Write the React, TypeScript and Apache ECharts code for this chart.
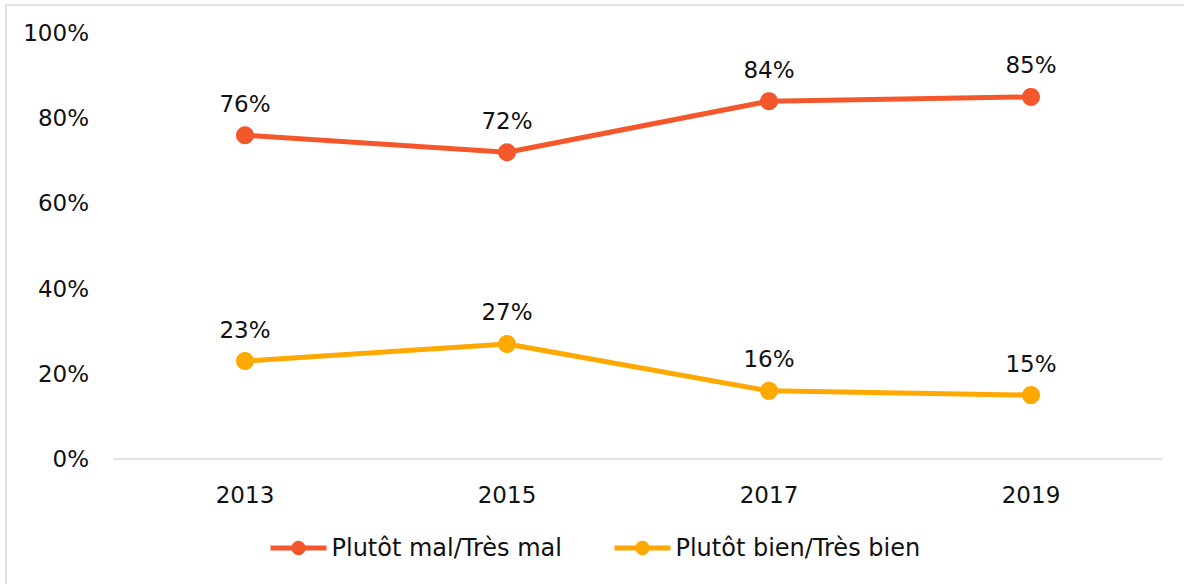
import React, { useEffect, useRef } from "react";
import * as echarts from "echarts";

const categories = ["2013", "2015", "2017", "2019"];
const seriesMal = [76, 72, 84, 85];
const seriesBien = [23, 27, 16, 15];
const seriesNames = ["Plutôt mal/Très mal", "Plutôt bien/Très bien"];
const colors = ["#F4572B", "#FFA800"];

const FONT = "DejaVu Sans";

export default function App() {
  const ref = useRef<HTMLDivElement>(null);
  useEffect(() => {
    const chart = echarts.init(ref.current!, null, { renderer: "svg" });
    const mkSeries = (name: string, data: number[], color: string) => ({
      name,
      type: "line",
      data,
      symbol: "circle",
      symbolSize: 18,
      lineStyle: { color, width: 5 },
      itemStyle: { color },
      label: {
        show: true,
        position: "top",
        distance: 11,
        formatter: (p: any) => p.value + "%",
        color: "#111",
        fontFamily: FONT,
        fontSize: 23,
      },
    });
    chart.setOption({
      animation: false,
      backgroundColor: "#fff",
      graphic: [
        {
          type: "rect",
          shape: { x: 6, y: 5, width: 1300, height: 700 },
          style: { fill: "none", stroke: "#D9D9D9", lineWidth: 1.5 },
          silent: true,
        },
      ],
      grid: { left: 114, right: 22, top: 33, bottom: 125 },
      legend: {
        bottom: 24,
        left: 268,
        padding: 0,
        itemWidth: 56,
        itemHeight: 18,
        itemGap: 50,
        lineStyle: { width: 5 },
        textStyle: { fontFamily: FONT, fontSize: 24, color: "#111" },
        data: seriesNames,
      },
      xAxis: {
        type: "category",
        data: categories,
        boundaryGap: true,
        axisLine: { lineStyle: { color: "#D9D9D9", width: 1.5 } },
        axisTick: { show: false },
        axisLabel: { fontFamily: FONT, fontSize: 23, color: "#111", margin: 24 },
      },
      yAxis: {
        type: "value",
        min: 0,
        max: 100,
        interval: 20,
        splitLine: { show: false },
        axisLine: { show: false },
        axisTick: { show: false },
        axisLabel: {
          fontFamily: FONT,
          fontSize: 23,
          color: "#111",
          margin: 25,
          formatter: (v: number) => v + "%",
        },
      },
      series: [
        mkSeries(seriesNames[0], seriesMal, colors[0]),
        mkSeries(seriesNames[1], seriesBien, colors[1]),
      ],
    });
    return () => chart.dispose();
  }, []);
  return (
    <div
      ref={ref}
      style={{ position: "fixed", left: 0, top: 0, width: 1184, height: 584 }}
    />
  );
}
